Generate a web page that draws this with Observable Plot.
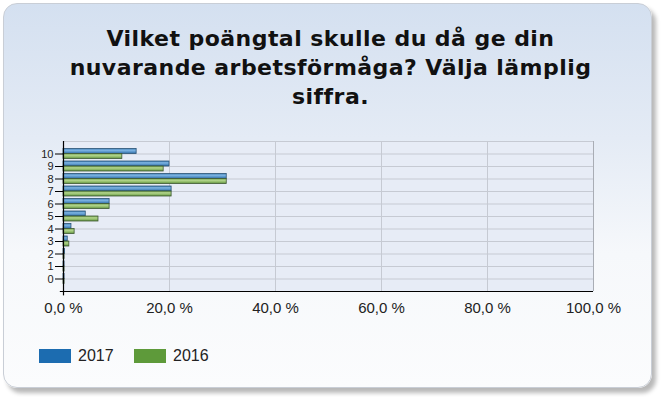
<!DOCTYPE html>
<html>
<head>
<meta charset="utf-8">
<script src="https://cdn.jsdelivr.net/npm/d3@7"></script>
<script src="https://cdn.jsdelivr.net/npm/@observablehq/plot@0.6"></script>
<style>
  html, body { margin: 0; padding: 0; background: #ffffff; }
  #wrap { position: relative; width: 661px; height: 397px; overflow: hidden; }
  #card {
    position: absolute; left: 3px; top: 3px; width: 647px; height: 383px;
    border-radius: 14px; border: 1px solid #c9ced6;
    background: linear-gradient(to bottom, #d4e0f0 0%, #e4ebf5 35%, #f6f8fb 65%, #fbfcfd 100%);
    box-shadow: 4px 5px 4px rgba(0,0,0,0.28);
  }
  #title {
    position: absolute; left: 0; top: 24px; width: 661px; text-align: center;
    font-family: "DejaVu Sans", sans-serif; font-weight: bold; font-size: 22px;
    letter-spacing: 0.45px; line-height: 29px; color: #111;
  }
  #legend { position: absolute; left: 39px; top: 346px; font-family: "Liberation Sans", Arial, sans-serif; font-size: 16px; color: #222; }
  .item { position: absolute; top: 0; white-space: nowrap; }
  .sw { position: absolute; top: 3px; width: 32px; height: 14px; }
  .lab { position: absolute; left: 39px; top: 0; line-height: 19px; }
  #chart { position: absolute; left: 0; top: 0; }
</style>
</head>
<body>
<div id="wrap">
  <div id="card"></div>
  <div id="title">Vilket poängtal skulle du då ge din<br>nuvarande arbetsförmåga? Välja lämplig<br>siffra.</div>
  <div id="chart"></div>
  <div id="legend"></div>
</div>
<script>
const scores = [10, 9, 8, 7, 6, 5, 4, 3, 2, 1, 0];
const values2017 = [13.8, 20.0, 30.8, 20.4, 8.7, 4.2, 1.5, 0.8, 0.3, 0.2, 0.2];
const values2016 = [11.1, 18.9, 30.8, 20.4, 8.7, 6.6, 2.1, 1.1, 0.2, 0.2, 0.2];
const series = ["2017", "2016"];
const legendColors = ["#1c6cb0", "#5e9a3a"];
const xTicks = [0, 20, 40, 60, 80, 100];

const rows = [];
scores.forEach((s, i) => {
  rows.push({score: s, year: "2017", value: values2017[i]});
  rows.push({score: s, year: "2016", value: values2016[i]});
});
const barH = 0.4;

const svg = Plot.plot({
  width: 661, height: 397,
  marginLeft: 63, marginRight: 68, marginTop: 141, marginBottom: 106,
  style: {background: "transparent", fontFamily: "Liberation Sans, Arial, sans-serif"},
  x: {domain: [0, 100], axis: null, label: null},
  y: {domain: [-1, 11], axis: null, label: null},
  marks: [
    Plot.frame({fill: "#e7ecf6", stroke: "none"}),
    Plot.ruleY(d3.range(0, 12), {stroke: "#c6cad3", strokeWidth: 1}),
    Plot.ruleX(xTicks.slice(1, -1), {stroke: "#c6cad3", strokeWidth: 1}),
    Plot.ruleX([100], {stroke: "#a9adb5", strokeWidth: 1}),
    Plot.rect(rows, {
      x1: 0, x2: "value",
      y1: d => d.year === "2017" ? d.score : d.score - barH,
      y2: d => d.year === "2017" ? d.score + barH : d.score,
      fill: d => d.year === "2017" ? "url(#g2017)" : "url(#g2016)",
      stroke: d => d.year === "2017" ? "#2c5476" : "#3f5a33",
      strokeWidth: 0.8
    }),
    Plot.ruleY([-1], {stroke: "#000", strokeWidth: 1.2, x1: -0.6, x2: 100}),
    Plot.ruleX([0], {stroke: "#000", strokeWidth: 1.2, y1: -1.35, y2: 11}),
    Plot.axisY(scores, {tickSize: 8, tickPadding: 2, fontSize: 11, stroke: "#000", fill: "#222", label: null}),
    Plot.axisX(xTicks, {tickSize: 0, tickPadding: 11, fontSize: 15, fill: "#222", label: null,
      tickFormat: d => d.toFixed(1).replace(".", ",") + " %"})
  ]
});

const defs = d3.select(svg).insert("defs", ":first-child");
function grad(id, stops) {
  const g = defs.append("linearGradient").attr("id", id)
    .attr("x1", 0).attr("y1", 0).attr("x2", 0).attr("y2", 1);
  stops.forEach(([o, c]) => g.append("stop").attr("offset", o).attr("stop-color", c));
}
grad("g2017", [["0%", "#3f7fb6"], ["35%", "#7db4e2"], ["65%", "#5a96cb"], ["100%", "#2e6aa0"]]);
grad("g2016", [["0%", "#6f9f4b"], ["35%", "#b2d48c"], ["65%", "#93be6c"], ["100%", "#5e8f3e"]]);

document.getElementById("chart").appendChild(svg);

const legend = document.getElementById("legend");
series.forEach((s, i) => {
  const item = document.createElement("div");
  item.className = "item";
  item.style.left = (i * 95) + "px";
  item.innerHTML = `<div class="sw" style="background:${legendColors[i]}"></div><div class="lab">${s}</div>`;
  legend.appendChild(item);
});
</script>
</body>
</html>
